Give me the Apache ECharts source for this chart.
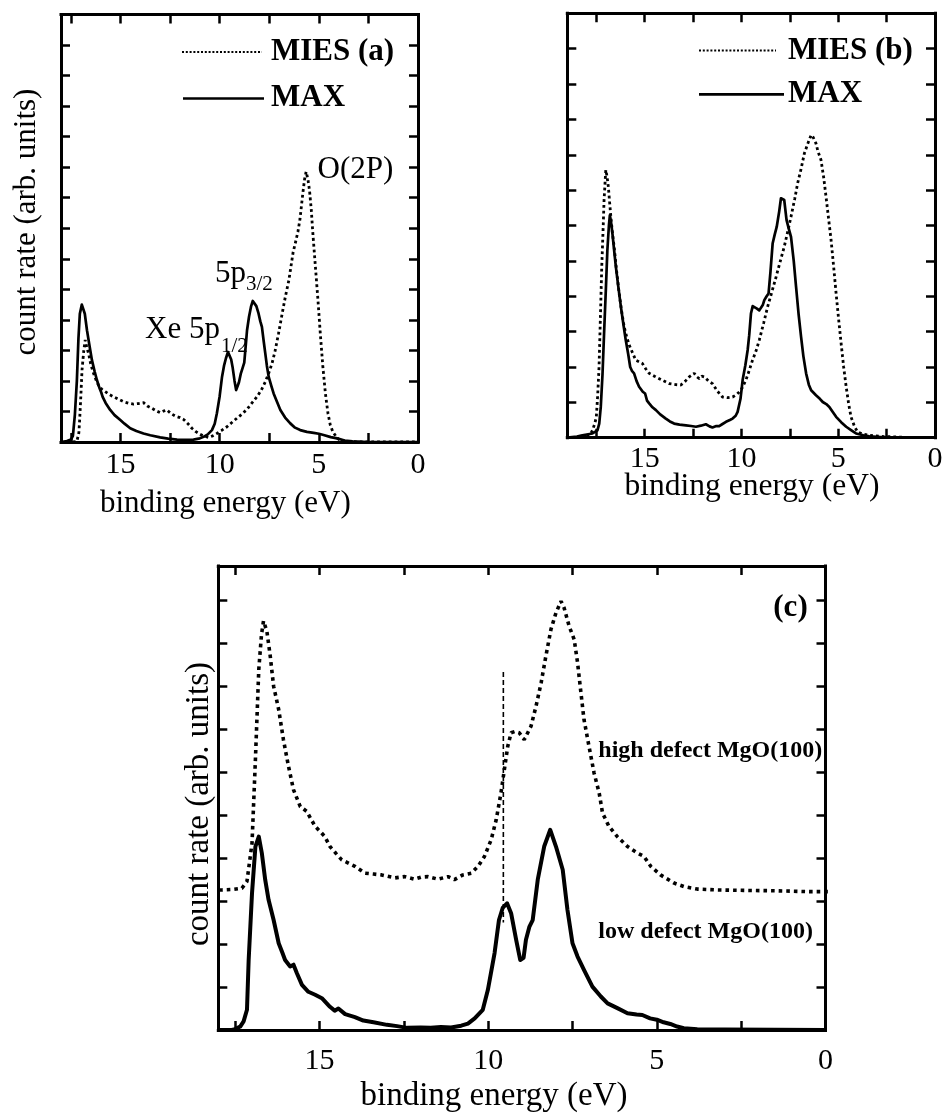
<!DOCTYPE html>
<html><head><meta charset="utf-8">
<script src="https://cdn.jsdelivr.net/npm/echarts@6/dist/echarts.min.js"></script>
<style>html,body{margin:0;padding:0;background:#fff}#c{width:946px;height:1114px}</style>
</head><body><div id="c"></div>
<script>
// ---------- DATA (binding energy in eV, count rate in arb. units) ----------
const xTickLabels = [0, 5, 10, 15];

// Panel (a) MAX (solid)
const aMaxE = [18.0,17.7,17.5,17.4,17.3,17.2,17.12,17.05,16.95,16.88,16.8,16.69,16.55,16.44,16.3,16.19,16.05,15.97,15.9,15.75,15.52,15.3,15.01,14.8,14.51,14.2,13.84,13.5,13.0,12.6,12.15,11.7,11.32,11.0,10.81,10.6,10.39,10.25,10.14,10.0,9.88,9.78,9.68,9.58,9.52,9.42,9.35,9.25,9.17,9.12,9.03,8.93,8.83,8.76,8.68,8.62,8.52,8.42,8.33,8.25,8.15,8.04,7.95,7.87,7.78,7.7,7.62,7.53,7.4,7.28,7.1,6.94,6.7,6.44,6.2,5.94,5.6,5.26,5.0,4.76,4.4,4.08,3.7,3.3,2.5,0];
const aMaxV = [0,0.03,0.08,0.2,0.9,2.0,3.4,4.2,4.5,4.52,4.2,3.66,3.1,2.68,2.3,2.03,1.75,1.62,1.48,1.28,1.05,0.88,0.72,0.6,0.45,0.36,0.28,0.22,0.15,0.11,0.08,0.07,0.08,0.12,0.17,0.25,0.39,0.6,0.94,1.5,2.14,2.5,2.75,2.95,2.93,2.7,2.46,2.0,1.7,1.65,1.95,2.25,2.45,2.6,3.2,3.66,4.1,4.43,4.62,4.67,4.45,4.21,3.95,3.77,3.3,2.9,2.5,2.14,1.85,1.59,1.3,1.05,0.8,0.61,0.47,0.39,0.33,0.3,0.27,0.23,0.16,0.12,0.05,0.02,0,0];

// Panel (a) MIES (dotted)
const aMiesE = [17.4,17.2,17.1,17.06,17.0,16.94,16.85,16.78,16.7,16.61,16.5,16.36,16.2,16.11,15.95,15.77,15.55,15.35,15.1,14.85,14.6,14.34,14.1,13.84,13.65,13.41,13.2,13.0,12.8,12.66,12.45,12.24,12.0,11.82,11.6,11.4,11.2,10.98,10.76,10.56,10.35,10.14,9.9,9.63,9.4,9.13,8.9,8.62,8.38,8.12,7.9,7.7,7.53,7.36,7.2,7.03,6.85,6.69,6.51,6.44,6.3,6.19,6.05,5.95,5.81,5.72,5.64,5.55,5.47,5.38,5.31,5.18,5.05,4.92,4.8,4.67,4.54,4.42,4.29,4.1,3.95,3.6,3.0,0];
const aMiesV = [0,0.02,0.3,0.72,1.5,2.36,3.0,3.34,3.1,2.9,2.55,2.25,1.98,1.86,1.73,1.65,1.55,1.48,1.4,1.32,1.27,1.24,1.26,1.29,1.18,1.1,1.02,0.96,1.02,1.05,0.93,0.85,0.8,0.74,0.6,0.45,0.34,0.25,0.19,0.15,0.2,0.28,0.38,0.5,0.63,0.78,0.9,1.07,1.27,1.48,1.7,1.97,2.25,2.57,3.0,3.56,4.2,4.75,5.3,5.6,6.2,6.5,6.9,7.3,8.13,8.6,8.85,8.6,8.24,7.6,6.91,5.8,4.7,3.5,2.49,1.6,0.94,0.55,0.33,0.15,0.06,0.02,0,0];

// Panel (b) MAX (solid)
const bMaxE = [19.0,18.5,18.22,17.7,17.44,17.35,17.27,17.18,17.1,17.0,16.93,16.85,16.8,16.74,16.67,16.58,16.49,16.36,16.23,16.1,15.98,15.85,15.75,15.65,15.55,15.42,15.29,15.1,14.98,14.88,14.77,14.6,14.42,14.2,13.91,13.7,13.48,13.2,12.87,12.6,12.35,12.1,11.84,11.65,11.5,11.3,11.15,11.0,10.8,10.6,10.46,10.3,10.2,10.05,9.94,9.8,9.68,9.6,9.51,9.42,9.37,9.2,9.08,8.99,8.9,8.82,8.7,8.6,8.5,8.39,8.28,8.18,8.05,7.96,7.88,7.79,7.67,7.55,7.44,7.3,7.18,7.05,6.92,6.8,6.66,6.52,6.4,6.15,5.95,5.8,5.62,5.46,5.3,5.11,4.85,4.59,4.3,4.08,3.7,3.39,2.8,2.0,0];
const bMaxV = [0,0.03,0.07,0.12,0.21,0.4,0.87,1.8,2.95,4.3,5.3,6.0,6.29,6.1,5.78,5.3,4.83,4.25,3.7,3.2,2.76,2.35,2.0,1.88,1.82,1.6,1.44,1.3,1.25,1.05,0.97,0.86,0.78,0.66,0.54,0.46,0.4,0.37,0.35,0.33,0.31,0.34,0.38,0.32,0.29,0.33,0.33,0.38,0.45,0.5,0.54,0.62,0.73,1.1,1.63,2.05,2.48,2.9,3.51,3.72,3.75,3.65,3.6,3.56,3.75,3.89,4.0,4.08,4.7,5.49,5.75,5.96,6.4,6.77,6.8,6.72,6.15,5.9,5.68,5.0,4.27,3.5,2.85,2.3,1.82,1.5,1.34,1.2,1.1,1.01,0.95,0.87,0.74,0.59,0.44,0.31,0.2,0.12,0.07,0.04,0.02,0.01,0];

// Panel (b) MIES (dotted)
const bMiesE = [18.6,18.05,17.8,17.7,17.58,17.5,17.43,17.36,17.29,17.22,17.15,17.1,17.04,17.01,16.95,16.88,16.82,16.75,16.67,16.58,16.45,16.32,16.2,16.06,15.93,15.8,15.63,15.46,15.3,15.12,14.95,14.77,14.5,14.25,14.0,13.74,13.4,13.13,12.9,12.7,12.44,12.3,12.18,12.05,11.92,11.7,11.5,11.25,10.98,10.7,10.46,10.25,10.03,9.9,9.77,9.6,9.43,9.25,9.08,8.85,8.65,8.43,8.21,8.0,7.79,7.6,7.44,7.25,7.1,6.92,6.75,6.55,6.4,6.3,6.22,6.15,6.05,5.89,5.75,5.63,5.5,5.37,5.24,5.11,4.98,4.85,4.72,4.59,4.46,4.34,4.15,3.99,3.7,3.39,2.9,2.5,1.5,0];
const bMiesV = [0,0.04,0.1,0.21,0.4,0.59,1.2,2.0,3.4,4.83,5.9,6.72,7.3,7.57,7.4,7.1,6.7,6.25,5.8,5.4,4.7,4.08,3.6,3.13,2.85,2.62,2.4,2.19,2.15,2.1,1.95,1.82,1.74,1.67,1.6,1.53,1.5,1.49,1.6,1.72,1.82,1.72,1.67,1.74,1.72,1.6,1.53,1.32,1.15,1.13,1.15,1.22,1.34,1.48,1.63,1.9,2.19,2.45,2.76,3.25,3.7,4.12,4.55,4.98,5.4,5.85,6.25,6.75,7.19,7.6,8.04,8.35,8.56,8.5,8.4,8.32,8.1,7.85,7.35,6.81,6.2,5.59,4.85,4.08,3.35,2.66,2.0,1.44,0.95,0.59,0.3,0.16,0.1,0.07,0.04,0.03,0.01,0];

// Panel (c) low defect MgO(100) (solid)
const cLowE = [18.0,17.6,17.5,17.35,17.25,17.15,17.1,17.0,16.9,16.8,16.71,16.61,16.51,16.36,16.21,16.1,16.02,15.87,15.77,15.67,15.52,15.33,15.13,14.93,14.69,14.55,14.44,14.24,13.95,13.7,13.4,13.0,12.7,12.4,12.0,11.7,11.4,11.1,10.8,10.6,10.4,10.16,10.01,9.81,9.68,9.57,9.44,9.32,9.17,9.05,8.95,8.88,8.78,8.68,8.53,8.34,8.16,7.99,7.79,7.65,7.5,7.35,7.16,6.91,6.66,6.46,6.17,5.87,5.6,5.43,5.2,5.0,4.8,4.6,4.4,4.2,3.8,3.0,0];
const cLowV = [0,0,0.02,0.08,0.2,0.47,1.63,3.19,4.27,4.5,4.12,3.5,3.03,2.56,2.02,1.8,1.63,1.48,1.52,1.32,1.05,0.89,0.82,0.74,0.54,0.45,0.5,0.37,0.3,0.22,0.18,0.12,0.09,0.05,0.06,0.05,0.07,0.06,0.1,0.15,0.27,0.47,0.93,1.79,2.56,2.84,2.95,2.72,2.1,1.63,1.68,2.1,2.4,2.56,3.5,4.27,4.66,4.27,3.73,2.8,2.02,1.71,1.4,1.01,0.78,0.62,0.51,0.39,0.36,0.35,0.27,0.24,0.18,0.14,0.08,0.04,0.02,0.01,0];

// Panel (c) high defect MgO(100) (dotted, offset)
const cHighE = [18.2,17.89,17.6,17.3,17.15,17.0,16.9,16.8,16.72,16.66,16.56,16.46,16.36,16.21,16.07,15.92,15.77,15.57,15.38,15.13,14.98,14.84,14.69,14.5,14.34,13.95,13.65,13.4,13.16,12.77,12.47,12.18,11.98,11.78,11.49,11.19,11.0,10.75,10.5,10.3,10.11,9.91,9.76,9.62,9.52,9.42,9.32,9.2,9.08,8.93,8.88,8.73,8.58,8.43,8.29,8.14,7.99,7.84,7.75,7.6,7.45,7.35,7.25,7.16,7.01,6.86,6.71,6.61,6.42,6.17,5.87,5.58,5.38,5.18,4.89,4.49,4.2,3.8,3.21,2.43,1.44,0.46,-0.15];
const cHighV = [3.26,3.26,3.27,3.3,3.46,4.35,6.29,8.39,9.2,9.52,9.28,8.7,8.0,7.46,6.76,6.14,5.59,5.2,5.09,4.74,4.62,4.5,4.27,4.1,3.96,3.81,3.65,3.63,3.61,3.54,3.57,3.51,3.56,3.57,3.51,3.57,3.5,3.61,3.65,3.81,4.04,4.43,4.9,5.52,6.06,6.6,6.92,6.95,6.92,6.76,6.8,7.07,7.54,8.08,8.7,9.32,9.71,9.98,9.83,9.4,9.09,8.55,7.85,7.23,6.6,5.98,5.52,5.05,4.74,4.5,4.27,4.12,4.04,3.81,3.61,3.42,3.34,3.28,3.26,3.25,3.24,3.22,3.22];

// Panel (c) vertical dashed marker
const cDashE = [9.55, 9.55];
const cDashV = [8.33, 2.5];

// ---------- CHART ----------
const FONT = '"Liberation Serif","Times New Roman",serif';
const zip = (E, V) => E.map((e, i) => [e, V[i]]);
const tickFmt = v => (xTickLabels.indexOf(Math.round(v * 1000) / 1000) >= 0 ? String(v) : '');

function xPair(grid, max, margin, fs) {
  const base = {
    type: 'value', gridIndex: grid, min: 0, max: max, inverse: true, interval: 2.5,
    axisLine: { show: true, onZero: false, lineStyle: { color: '#000', width: 3, cap: 'square' } },
    axisTick: { show: true, inside: true, length: 9, lineStyle: { color: '#000', width: 2.5 } },
    splitLine: { show: false }
  };
  return [
    Object.assign({}, base, { position: 'bottom',
      axisLabel: { show: true, margin: margin, fontSize: fs, fontFamily: FONT, color: '#000', formatter: tickFmt, showMinLabel: true, showMaxLabel: true } }),
    Object.assign({}, base, { position: 'top', axisLabel: { show: false } })
  ];
}
function yPair(grid, max) {
  const base = {
    type: 'value', gridIndex: grid, min: 0, max: max, interval: 1,
    axisLine: { show: true, onZero: false, lineStyle: { color: '#000', width: 3, cap: 'square' } },
    axisTick: { show: true, inside: true, length: 9, lineStyle: { color: '#000', width: 2.5 } },
    axisLabel: { show: false }, splitLine: { show: false }
  };
  return [Object.assign({}, base, { position: 'left' }), Object.assign({}, base, { position: 'right' })];
}

const dotAB = { color: '#000', width: 2.8, type: [2.8, 3.0] };
const solidAB = { color: '#000', width: 2.7, join: 'round' };
const dotC = { color: '#000', width: 3.6, type: [3.6, 4.0] };
const solidC = { color: '#000', width: 4, join: 'round' };

function line(name, xi, yi, data, ls, extra) {
  return Object.assign({ name: name, type: 'line', xAxisIndex: xi, yAxisIndex: yi, data: data,
    showSymbol: false, symbol: 'none', smooth: false, silent: true, animation: false, lineStyle: ls }, extra || {});
}

function txt(x, y, text, size, weight, extra) {
  return Object.assign({ type: 'text', x: x, y: y, silent: true,
    style: { text: text, fill: '#000', fontSize: size, fontFamily: FONT, fontWeight: weight || 'normal', align: 'left', verticalAlign: 'middle' } }, extra || {});
}
function seg(x1, x2, y, w, dash) {
  return { type: 'line', silent: true, shape: { x1: x1, y1: y, x2: x2, y2: y },
    style: { stroke: '#000', lineWidth: w, lineDash: dash || null } };
}
function ctr(el) { el.style.align = 'center'; return el; }

const chart = echarts.init(document.getElementById('c'), null, { renderer: 'canvas' });
chart.setOption({
  backgroundColor: '#fff',
  animation: false,
  grid: [
    { left: 61, top: 14.5, width: 357, height: 427.5, containLabel: false, outerBoundsMode: 'none' },
    { left: 567.3, top: 13.3, width: 367.7, height: 424.4, containLabel: false, outerBoundsMode: 'none' },
    { left: 218.3, top: 566, width: 607.2, height: 464, containLabel: false, outerBoundsMode: 'none' }
  ],
  xAxis: [].concat(xPair(0, 18, 8, 30), xPair(1, 19, 6, 30), xPair(2, 18, 16, 30)),
  yAxis: [].concat(yPair(0, 14), yPair(1, 12), yPair(2, 10.8)),
  series: [
    line('MIES (a)', 0, 0, zip(aMiesE, aMiesV), dotAB),
    line('MAX (a)', 0, 0, zip(aMaxE, aMaxV), solidAB),
    line('MIES (b)', 2, 2, zip(bMiesE, bMiesV), dotAB),
    line('MAX (b)', 2, 2, zip(bMaxE, bMaxV), solidAB),
    line('high defect MgO(100)', 4, 4, zip(cHighE, cHighV), dotC, { clip: false }),
    line('low defect MgO(100)', 4, 4, zip(cLowE, cLowV), solidC),
    line('marker', 4, 4, zip(cDashE, cDashV), { color: '#000', width: 1.6, type: [5, 3] })
  ],
  graphic: [
    // legend (a)
    seg(182, 262, 52, 2, [2, 1.8]),
    seg(183, 264, 98.5, 2.6),
    txt(271, 52, 'MIES (a)', 31, 'bold'),
    txt(271, 97.5, 'MAX', 31, 'bold'),
    // legend (b)
    seg(699, 776, 50.5, 2, [2, 1.8]),
    seg(699, 784, 94.4, 2.6),
    txt(788, 50.5, 'MIES (b)', 31, 'bold'),
    txt(788, 94.4, 'MAX', 31, 'bold'),
    // annotations (a)
    txt(317.6, 170, 'O(2P)', 31),
    txt(215, 273.5, '5p', 31),
    txt(246, 284.4, '3/2', 21),
    txt(145, 330, 'Xe 5p', 31),
    txt(221, 346, '1/2', 21),
    // annotations (c)
    txt(773.3, 608, '(c)', 31, 'bold'),
    txt(598.3, 750.5, 'high defect MgO(100)', 24, 'bold'),
    txt(598.3, 931.5, 'low defect MgO(100)', 24, 'bold'),
    // axis titles
    ctr(txt(225.3, 504, 'binding energy (eV)', 31)),
    ctr(txt(752, 487, 'binding energy (eV)', 31.5)),
    ctr(txt(494, 1096, 'binding energy (eV)', 33)),
    ctr(txt(27, 222, 'count rate (arb. units)', 31, 'normal', { rotation: Math.PI / 2 })),
    ctr(txt(199, 804, 'count rate (arb. units)', 33, 'normal', { rotation: Math.PI / 2 }))
  ]
});
</script>
</body></html>
